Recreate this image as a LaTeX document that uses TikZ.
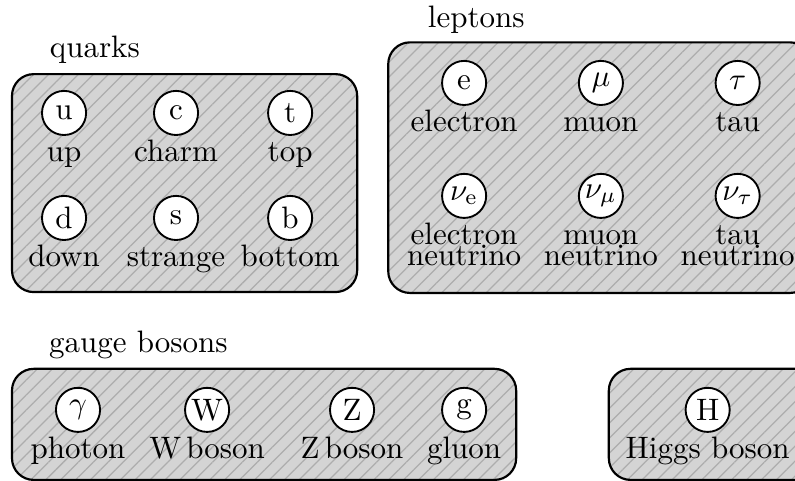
\documentclass[tikz,border=0pt]{standalone}
\usetikzlibrary{patterns.meta}

\begin{document}
\begin{tikzpicture}[semithick, % line style
        particle/.style = {draw, circle, fill = white, minimum size = 5mm,
            inner sep = 0pt},
        pname/.style = {anchor = base, inner sep = 0pt, align = center},
        family/.style = {draw, line width = 0.7pt, rounded corners = 7pt,
            preaction = {fill = black!17},
            pattern = {Lines[angle = 45, distance = 3.4pt, line width = 0.4pt]},
            pattern color = black!32},
        title/.style = {anchor = base west, inner sep = 0pt}
    ]

    \useasboundingbox (0,0) rectangle (9.01,5.45);

    % the four families
    \draw[family] (0.136,2.14) rectangle (4.048,4.61);
    \draw[family] (4.40,2.13) rectangle (9.20,4.97);
    \draw[family] (0.136,0.011) rectangle (5.85,1.27);
    \draw[family] (6.90,0.011) rectangle (9.30,1.27);

    \node[title] (quarks) at (0.555,4.80) {quarks};
    \node[title] (leptons) at (4.84,5.14) {leptons};
    \node[title] (gauge) at (0.545,1.451) {gauge bosons};

    % quarks
    \node[particle] (u) at (0.726,4.17) {u};
    \node[particle] (c) at (1.995,4.17) {c};
    \node[particle] (t) at (3.288,4.17) {t};
    \node[particle] (d) at (0.726,2.98) {d};
    \node[particle] (s) at (1.995,2.98) {s};
    \node[particle] (b) at (3.288,2.98) {b};
    \node[pname] (up) at ([yshift=-15.8pt]u) {up};
    \node[pname] (charm) at ([yshift=-15.8pt]c) {charm};
    \node[pname] (top) at ([yshift=-15.8pt]t) {top};
    \node[pname] (down) at ([yshift=-15.8pt]d) {down};
    \node[pname] (strange) at ([yshift=-15.8pt]s) {strange};
    \node[pname] (bottom) at ([yshift=-15.8pt]b) {bottom};

    % leptons
    \node[particle] (e) at (5.26,4.51) {e};
    \node[particle] (mu) at (6.81,4.51) {$\mu$};
    \node[particle] (tau) at (8.36,4.51) {$\tau$};
    \node[particle] (nue) at (5.26,3.23) {$\nu_\mathrm{e}$};
    \node[particle] (numu) at (6.81,3.23) {$\nu_\mu$};
    \node[particle] (nutau) at (8.36,3.23) {$\nu_\tau$};
    \node[pname] (electron) at ([yshift=-15.8pt]e) {electron};
    \node[pname] (muon) at ([yshift=-15.8pt]mu) {muon};
    \node[pname] (taulep) at ([yshift=-15.8pt]tau) {tau};
    % base of a two-line name is its last line
    \node[pname] (enu) at ([yshift=-22.3pt]nue) {electron\\[-5.5pt]neutrino};
    \node[pname] (munu) at ([yshift=-22.3pt]numu) {muon\\[-5.5pt]neutrino};
    \node[pname] (taunu) at ([yshift=-22.3pt]nutau) {tau\\[-5.5pt]neutrino};

    % bosons
    \node[particle] (gamma) at (0.884,0.805) {$\gamma$};
    \node[particle] (W) at (2.347,0.805) {W};
    \node[particle] (Z) at (3.99,0.805) {Z};
    \node[particle] (g) at (5.26,0.805) {g};
    \node[particle] (H) at (8.02,0.805) {H};
    \node[pname] (photon) at ([yshift=-15.8pt]gamma) {photon};
    \node[pname] (wboson) at ([yshift=-15.8pt]W) {W\,boson};
    \node[pname] (zboson) at ([yshift=-15.8pt]Z) {Z\,boson};
    \node[pname] (gluon) at ([yshift=-15.8pt]g) {gluon};
    \node[pname] (higgs) at ([yshift=-15.8pt]H) {Higgs boson};
\end{tikzpicture}
\end{document}
